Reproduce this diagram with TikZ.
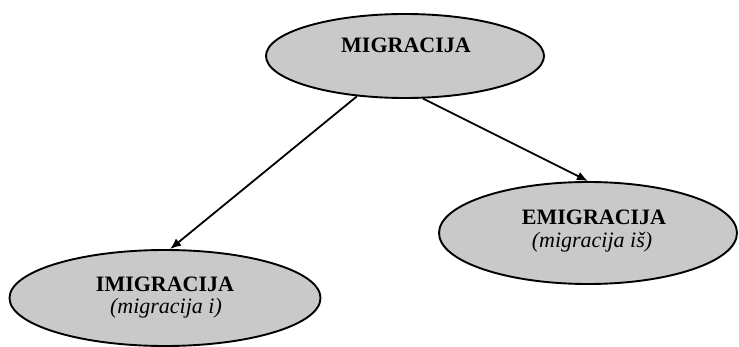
\documentclass[tikz,border=0pt]{standalone}
\usepackage{fontspec}
\setmainfont{Liberation Serif}
\usetikzlibrary{arrows.meta,shapes.geometric}

\begin{document}
\begin{tikzpicture}[x=1pt,y=-1pt,
  oval/.style={ellipse,draw,line width=1.9pt,fill=black!21,inner sep=0pt},
  headtext/.style={anchor=base,font=\fontsize{22}{23}\selectfont\bfseries},
  subtext/.style={anchor=base,font=\fontsize{22}{23}\selectfont\itshape},
  link/.style={line width=1.8pt,-{Latex[length=11pt,width=9pt]}}]
  \useasboundingbox (0,0) rectangle (739,347);
  % the three ellipses
  \node[oval,minimum width=278pt,minimum height=84pt] (mig) at (405,56) {};
  \node[oval,minimum width=298pt,minimum height=102pt] (emi) at (588,233) {};
  \node[oval,minimum width=311pt,minimum height=96pt] (imi) at (165,298) {};
  % texts
  \node[headtext] (migname) at (406,53) {MIGRACIJA};
  \node[headtext] (eminame) at (594,225) {EMIGRACIJA};
  \node[subtext] (eminote) at (592,248) {(migracija iš)};
  \node[headtext] (iminame) at (165,292) {IMIGRACIJA};
  \node[subtext] (iminote) at (166,314) {(migracija i)};
  % arrows
  \draw[link] (mig.220) -- (imi.84);
  \draw[link] (mig.293) -- (emi.north);
\end{tikzpicture}
\end{document}
